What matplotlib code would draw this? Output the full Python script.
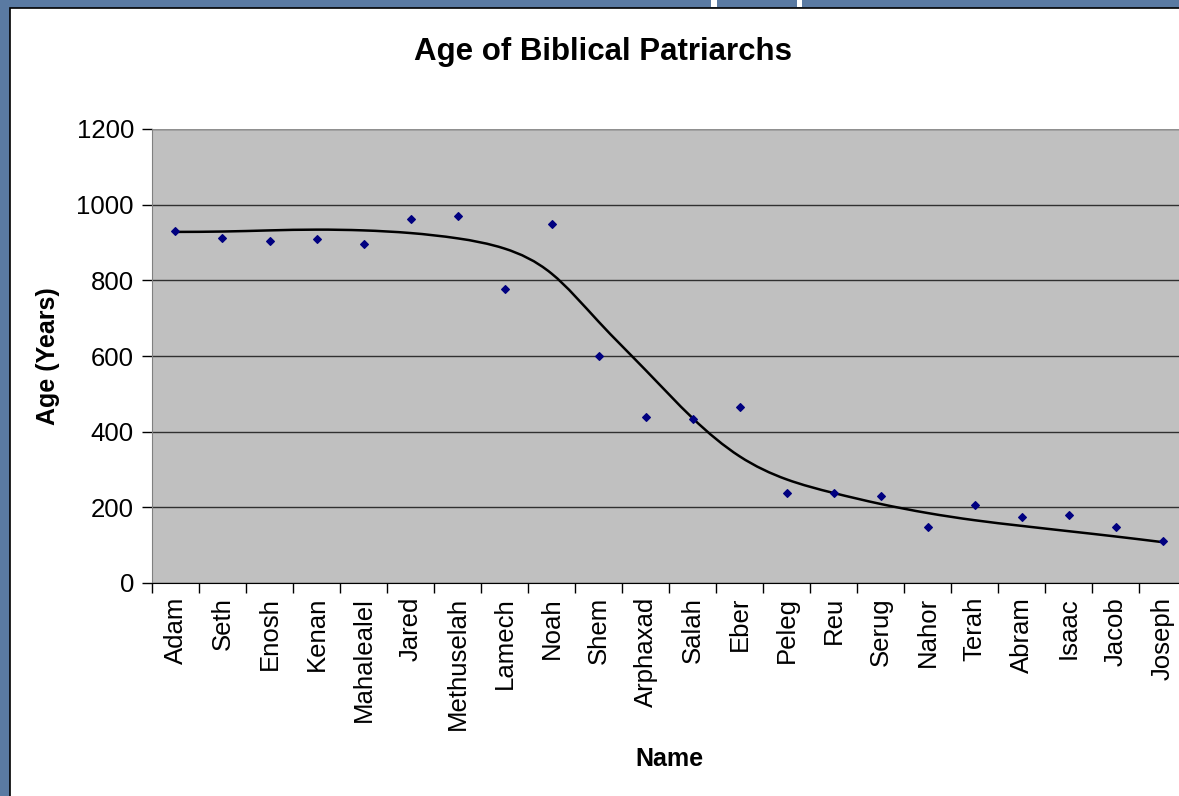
import numpy as np
import matplotlib
matplotlib.use("Agg")
import matplotlib.pyplot as plt
from matplotlib.patches import Rectangle, PathPatch
from matplotlib.path import Path

names = ["Adam", "Seth", "Enosh", "Kenan", "Mahalealel", "Jared", "Methuselah",
         "Lamech", "Noah", "Shem", "Arphaxad", "Salah", "Eber", "Peleg", "Reu",
         "Serug", "Nahor", "Terah", "Abram", "Isaac", "Jacob", "Joseph"]
ages = [930, 912, 905, 910, 895, 962, 969, 777, 950, 600, 438, 433, 464, 239,
        239, 230, 148, 205, 175, 180, 147, 110]
# trend curve at each name
trend = [928, 929, 932, 934, 932, 925, 911, 884, 818, 691, 563, 436, 335, 274,
         238, 209, 185, 166, 151, 137, 123, 108]
y_ticks = [0, 200, 400, 600, 800, 1000, 1200]

plt.rcParams["font.family"] = ["Liberation Sans", "DejaVu Sans"]

fig = plt.figure(figsize=(11.79, 7.96), dpi=100)
fig.patch.set_facecolor("#5a7aa2")

# white chart panel with black edge (behind the axes)
fig.add_artist(Rectangle((10 / 1179, -0.01), 1.1, 1.01 - 8 / 796, transform=fig.transFigure,
                         facecolor="white", edgecolor="black", linewidth=1.2, zorder=-5))
for x0, w in [(711, 6), (797, 5)]:
    fig.add_artist(Rectangle((x0 / 1179, 1 - 7 / 796), w / 1179, 7 / 796,
                             transform=fig.transFigure, facecolor="white",
                             edgecolor="none", zorder=-5))

ax = fig.add_axes([152 / 1179, 1 - 583 / 796, 1034 / 1179, 454 / 796])
ax.set_facecolor("#c0c0c0")

x = np.arange(len(names)) + 0.5
ax.scatter(x, ages, marker="D", s=15, color="#000080", zorder=3)

# smoothed line through the trend values: natural cubic spline as Bezier segments
y = np.array(trend, dtype=float)
n = len(y)
A = np.zeros((n, n))
b = np.zeros(n)
A[0, 0] = A[-1, -1] = 1
for i in range(1, n - 1):
    A[i, i - 1], A[i, i], A[i, i + 1] = 1, 4, 1
    b[i] = 6 * (y[i + 1] - 2 * y[i] + y[i - 1])
M = np.linalg.solve(A, b)
verts = [(x[0], y[0])]
codes = [Path.MOVETO]
for i in range(n - 1):
    dy = y[i + 1] - y[i]
    d0 = dy - (2 * M[i] + M[i + 1]) / 6
    d1 = dy + (M[i] + 2 * M[i + 1]) / 6
    verts += [(x[i] + 1 / 3, y[i] + d0 / 3), (x[i + 1] - 1 / 3, y[i + 1] - d1 / 3),
              (x[i + 1], y[i + 1])]
    codes += [Path.CURVE4] * 3
ax.add_patch(PathPatch(Path(verts, codes), facecolor="none", edgecolor="black",
                       linewidth=1.8, zorder=2))

ax.set_xlim(0, len(names))
ax.set_ylim(0, 1200)
ax.set_yticks(y_ticks)
ax.set_yticklabels([str(v) for v in y_ticks], fontsize=18.5)
ax.yaxis.grid(True, color="#303030", linewidth=1)
ax.set_axisbelow(True)

ax.set_xticks(np.arange(len(names) + 1), minor=False)
ax.set_xticklabels([])
ax.set_xticks(x, minor=True)
ax.set_xticklabels(names, minor=True, rotation=90, fontsize=18.5)
ax.tick_params(axis="x", which="minor", length=0, pad=10)
ax.tick_params(axis="x", which="major", length=7, width=1, color="black")
ax.tick_params(axis="y", length=7, width=1, color="black", pad=6)

for s in ["top", "right"]:
    ax.spines[s].set_visible(False)
ax.spines["left"].set_color("#808080")
ax.spines["bottom"].set_color("black")
ax.axhline(1200, color="#909090", linewidth=1.5)

ax.set_ylabel("Age (Years)", fontsize=18, fontweight="bold", labelpad=12)
ax.set_xlabel("Name", fontsize=18, fontweight="bold", labelpad=12)
fig.text(603 / 1179, 1 - 52 / 796, "Age of Biblical Patriarchs", fontsize=22.5,
         fontweight="bold", ha="center", va="center")

fig.savefig("out.png", dpi=100)
